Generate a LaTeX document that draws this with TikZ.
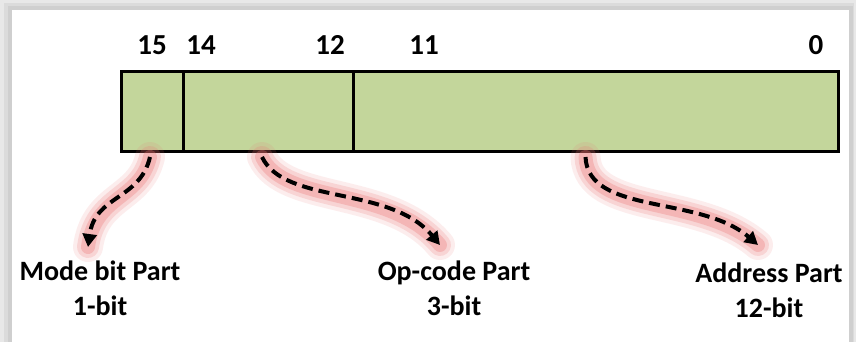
\documentclass[tikz,border=0pt]{standalone}
\usepackage{fontspec}
\setmainfont{Carlito}
\usetikzlibrary{positioning}
\usetikzlibrary{arrows.meta}
\definecolor{fieldgreen}{RGB}{195,214,155}
\definecolor{glowred}{RGB}{236,115,115}
\tikzset{>={Triangle[length=6.5pt,width=7pt]}}
\tikzset{
  field/.style={draw, line width=1.5pt, fill=fieldgreen, minimum height=39.5pt,
    inner sep=0pt, outer sep=0pt},
  bitnum/.style={font=\fontsize{14.5}{16}\selectfont\bfseries},
  partlbl/.style={font=\fontsize{14}{17.5}\selectfont\bfseries, align=center},
  pointer/.style={->, dash pattern=on 5.5pt off 3pt, line width=2pt},
  glow/.style={
    preaction={draw, glowred, opacity=.12, line width=15pt, solid, -, line cap=round},
    preaction={draw, glowred, opacity=.2, line width=11pt, solid, -, line cap=round},
    preaction={draw, glowred, opacity=.3, line width=7pt, solid, -, line cap=round}},
}

\begin{document}
\begin{tikzpicture}[x=0.5pt, y=-0.5pt]
  \useasboundingbox (0,0) rectangle (856,342);
  % card with shadow
  \fill[gray!18] (0,0) rectangle (856,342);
  \fill[gray!28] (4,3) rectangle (854,342);
  \fill[gray!38] (8,6) rectangle (853,342);
  \fill[white] (12,10) rectangle (849,342);
  % fields
  \node[field, minimum width=31pt] (mode) at (152,111.5) {};
  \node[field, minimum width=85pt, right=0pt of mode] (opcode) {};
  \node[field, minimum width=242.5pt, right=0pt of opcode] (addr) {};
  % bit numbers
  \node[bitnum] (b15) at (152,45) {15};
  \node[bitnum] (b14) at (201,45) {14};
  \node[bitnum] (b12) at (330,45) {12};
  \node[bitnum] (b11) at (424,45) {11};
  \node[bitnum] (b0) at (816,45) {0};
  % part labels
  \node[partlbl] (modelbl) at (100,288) {Mode bit Part\\1-bit};
  \node[partlbl] (oplbl) at (454,288) {Op-code Part\\3-bit};
  \node[partlbl] (addrlbl) at (769,290) {Address Part\\12-bit};
  \coordinate (modetip) at (88,247);
  \coordinate (optip) at (440,245);
  \coordinate (addrtip) at (758,245);
  % pointers
  \draw[pointer, glow] ([xshift=-1pt, yshift=-3pt]mode.south)
    .. controls (140,200) and (95,195) .. (modetip);
  \draw[pointer, glow] ([xshift=-3pt, yshift=-3pt]opcode.south)
    .. controls (285,205) and (390,185) .. (optip);
  \draw[pointer, glow] ([xshift=-5pt, yshift=-3pt]addr.south)
    .. controls (588,215) and (700,195) .. (addrtip);
\end{tikzpicture}
\end{document}
